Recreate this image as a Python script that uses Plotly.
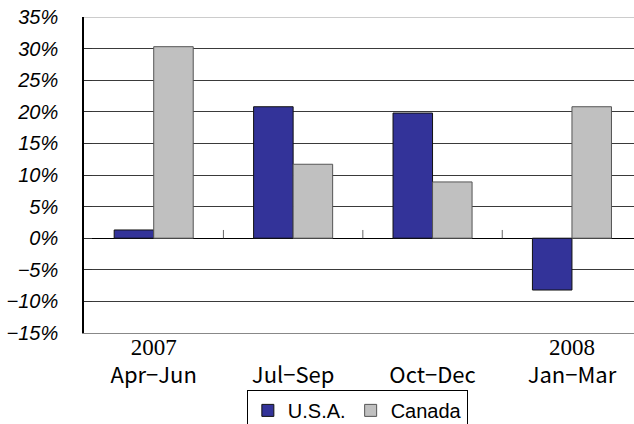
import plotly.graph_objects as go

categories = ["2007 Apr-Jun", "Jul-Sep", "Oct-Dec", "2008 Jan-Mar"]
years = ["2007", "", "", "2008"]
quarters = ["Apr−Jun", "Jul−Sep", "Oct−Dec", "Jan−Mar"]
usa = [1.3, 20.8, 19.8, -8.2]
canada = [30.3, 11.7, 8.9, 20.8]
y_ticks = [-15, -10, -5, 0, 5, 10, 15, 20, 25, 30, 35]

tick_labels = [
    (f"<span style='font-family:Liberation Serif;font-size:23px'>{yr}</span>" if yr else " ")
    + f"<br><span style='font-size:22px'>{q}</span>"
    for yr, q in zip(years, quarters)
]

x_idx = list(range(len(categories)))

fig = go.Figure()
fig.add_trace(go.Bar(
    x=x_idx, y=usa, name="U.S.A.",
    marker=dict(color="#333399", line=dict(color="#111111", width=1)),
))
fig.add_trace(go.Bar(
    x=x_idx, y=canada, name="Canada",
    marker=dict(color="#C0C0C0", line=dict(color="#555555", width=1)),
))

# small category separator ticks on the zero line
for i in range(len(categories) - 1):
    fig.add_shape(type="line", xref="x", yref="y",
                  x0=i + 0.5, x1=i + 0.5, y0=0, y1=1.3,
                  line=dict(color="#666666", width=1))

fig.update_layout(
    width=634, height=424,
    margin=dict(l=84, r=0, t=17, b=91, pad=0, autoexpand=False),
    paper_bgcolor="white", plot_bgcolor="white",
    barmode="group", bargap=0.433, bargroupgap=0,
    showlegend=True,
    legend=dict(
        orientation="h", x=0.497, xanchor="center", y=-0.18, yanchor="top",
        bordercolor="black", borderwidth=1,
        font=dict(family="Liberation Sans", size=20, color="black"),
        itemwidth=30, tracegroupgap=0,
    ),
    font=dict(family="Liberation Sans", color="black"),
)
fig.update_xaxes(
    range=[-0.5, 3.445], automargin=False,
    tickvals=x_idx, ticktext=tick_labels,
    tickfont=dict(family="Noto Sans CJK JP", size=21, color="black"),
    showgrid=False, zeroline=False, showline=True,
    linecolor="#888888", linewidth=1, ticks="",
    ticklabelstandoff=-4,
)
fig.update_yaxes(
    range=[-15, 35], tickvals=y_ticks, automargin=False,
    ticktext=["<i>" + f"{v}%".replace("-", "−") + "</i>" for v in y_ticks],
    tickfont=dict(family="Liberation Sans", size=20, color="black"),
    showgrid=True, gridcolor="#3a3a3a", gridwidth=1,
    zeroline=True, zerolinecolor="black", zerolinewidth=1,
    showline=True, linecolor="black", linewidth=1.5,
    mirror=False, ticks="inside", ticklen=8, tickcolor="#333333",
    ticklabelstandoff=20,
)
# top border line (35%)
fig.add_shape(type="line", xref="paper", yref="y", x0=0, x1=1, y0=35, y1=35,
              line=dict(color="#999999", width=1))

fig.write_html("out.html", config={"displayModeBar": False},
               post_script="document.body.style.margin='0';")
